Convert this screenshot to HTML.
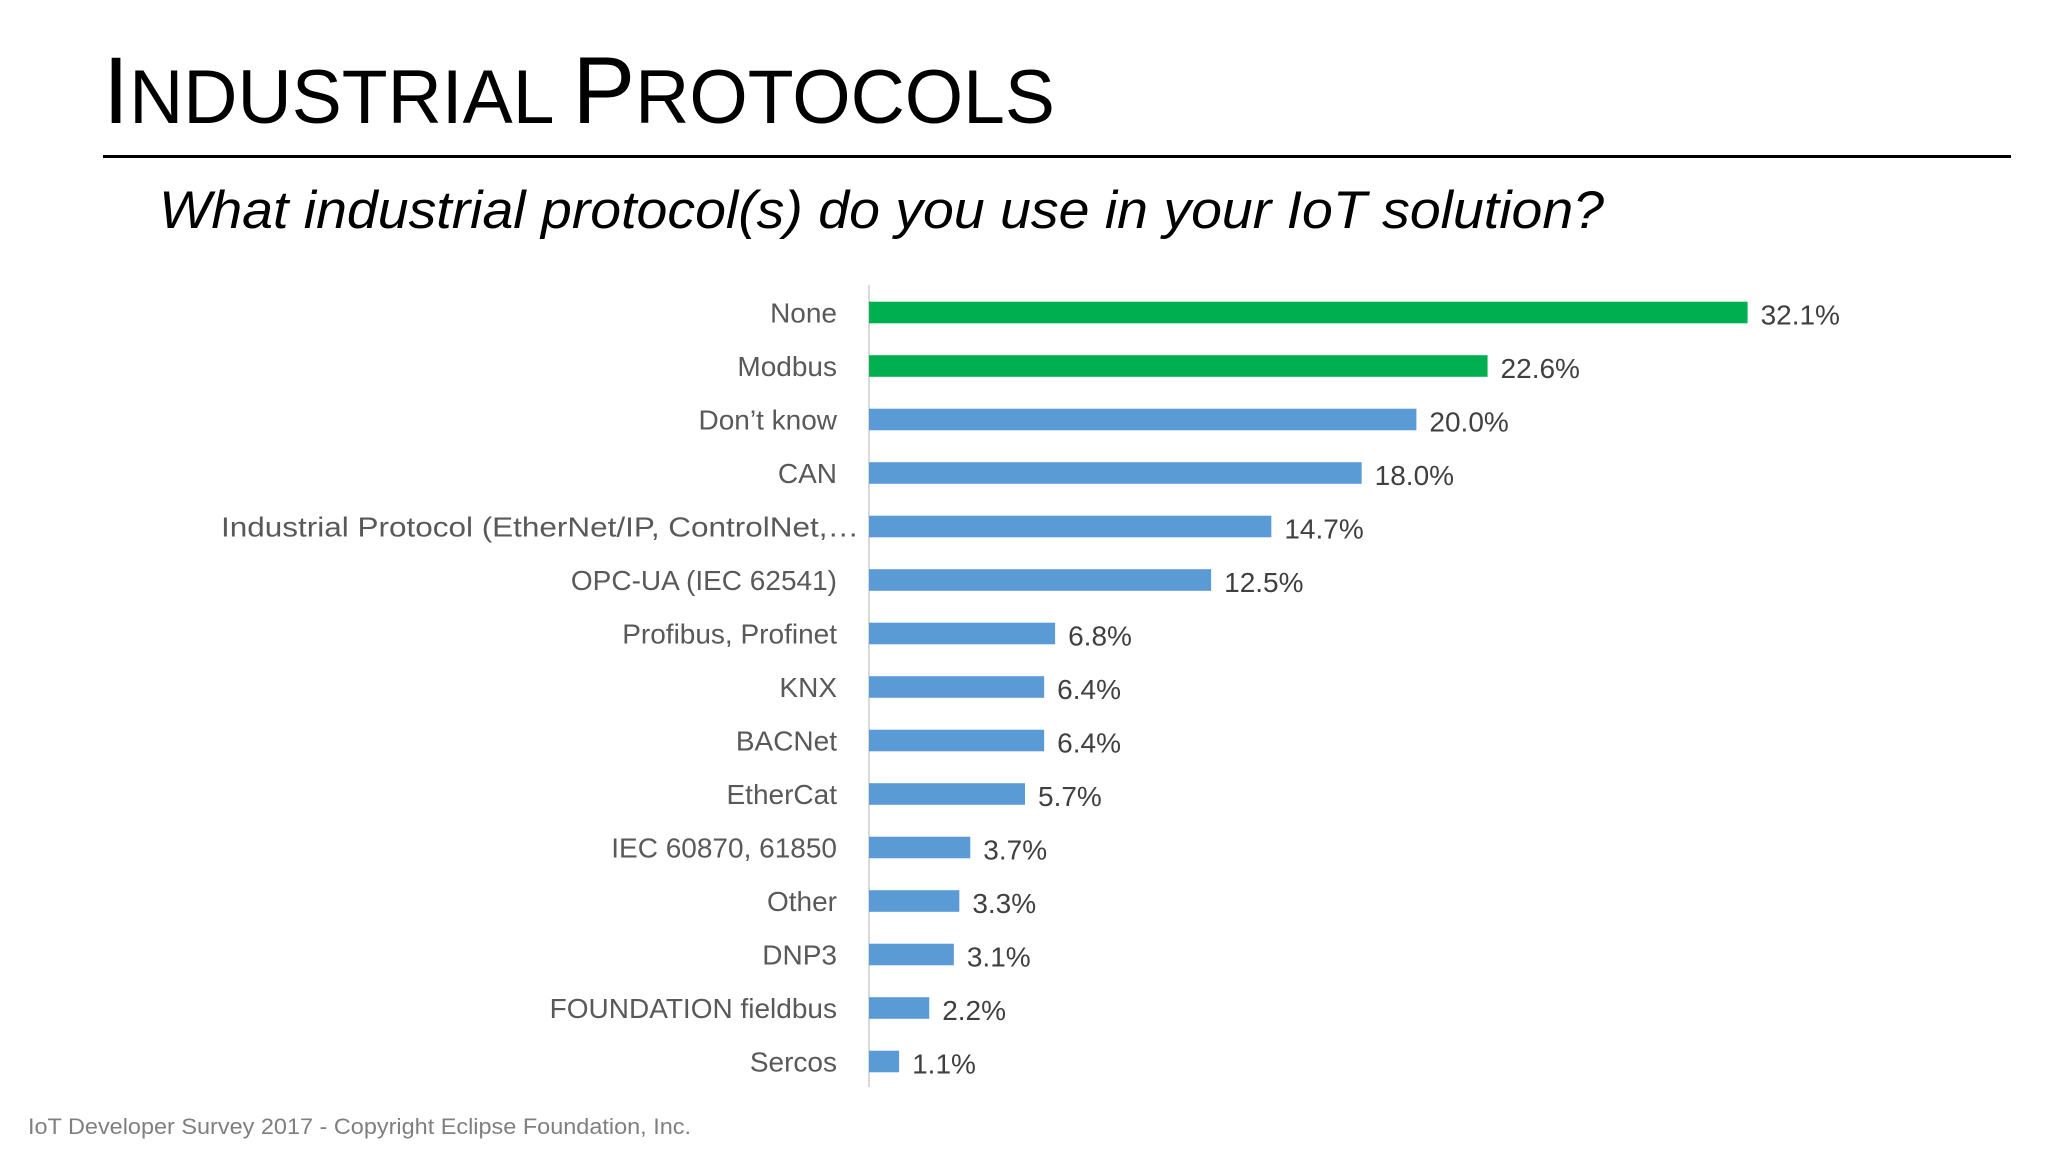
<!DOCTYPE html>
<html><head><meta charset="utf-8"><style>
html,body{margin:0;padding:0;background:#fff;}
svg{display:block;font-family:"Liberation Sans",sans-serif;}
</style></head><body>
<svg id="chart" width="2048" height="1152" viewBox="0 0 2048 1152">
<text x="103" y="123" font-size="95" fill="#000" textLength="952" lengthAdjust="spacingAndGlyphs">I<tspan font-size="76">NDUSTRIAL </tspan>P<tspan font-size="76">ROTOCOLS</tspan></text>
<rect x="103" y="155" width="1908" height="3" fill="#000"/>
<text x="159" y="228" font-size="53" font-style="italic" fill="#000" textLength="1445" lengthAdjust="spacingAndGlyphs">What industrial protocol(s) do you use in your IoT solution?</text>
<line x1="869" y1="285" x2="869" y2="1087" stroke="#d9d9d9" stroke-width="2"/>
<g id="bars"></g>
<text x="28" y="1134" font-size="22" fill="#7f7f7f" textLength="663" lengthAdjust="spacingAndGlyphs">IoT Developer Survey 2017 - Copyright Eclipse Foundation, Inc.</text>
</svg>
<script>
const categories = ["None","Modbus","Don’t know","CAN","Industrial Protocol (EtherNet/IP, ControlNet,…","OPC-UA (IEC 62541)","Profibus, Profinet","KNX","BACNet","EtherCat","IEC 60870, 61850","Other","DNP3","FOUNDATION fieldbus","Sercos"];
const values = [32.1,22.6,20.0,18.0,14.7,12.5,6.8,6.4,6.4,5.7,3.7,3.3,3.1,2.2,1.1];
const highlighted = [true,true,false,false,false,false,false,false,false,false,false,false,false,false,false];
const valueLabels = ["32.1%","22.6%","20.0%","18.0%","14.7%","12.5%","6.8%","6.4%","6.4%","5.7%","3.7%","3.3%","3.1%","2.2%","1.1%"];

const x0 = 869, pxPerUnit = 27.37;
const xScale = v => x0 + v * pxPerUnit;
const yCenter = i => 312.5 + i * 53.5;
const barH = 21.6;
const NS = "http://www.w3.org/2000/svg";
const g = document.getElementById("bars");
categories.forEach((c, i) => {
  const cy = yCenter(i);
  const lab = document.createElementNS(NS, "text");
  lab.setAttribute("x", 837);
  lab.setAttribute("y", cy + 10);
  lab.setAttribute("text-anchor", "end");
  lab.setAttribute("font-size", "28");
  lab.setAttribute("fill", "#595959");
  if (i === 4) { lab.setAttribute("textLength", "638"); lab.setAttribute("lengthAdjust", "spacingAndGlyphs"); lab.setAttribute("x", 859); }
  lab.textContent = c;
  
  
  g.appendChild(lab);
  const r = document.createElementNS(NS, "rect");
  r.setAttribute("x", x0);
  r.setAttribute("y", cy - barH / 2);
  r.setAttribute("width", xScale(values[i]) - x0);
  r.setAttribute("height", barH);
  r.setAttribute("fill", highlighted[i] ? "#00b050" : "#5b9bd5");
  
  
  g.appendChild(r);
  const vl = document.createElementNS(NS, "text");
  vl.setAttribute("x", xScale(values[i]) + 13);
  vl.setAttribute("y", cy + 12);
  vl.setAttribute("font-size", "28");
  vl.setAttribute("fill", "#404040");
  vl.textContent = valueLabels[i];
  
  
  g.appendChild(vl);
});
</script>
</body></html>
